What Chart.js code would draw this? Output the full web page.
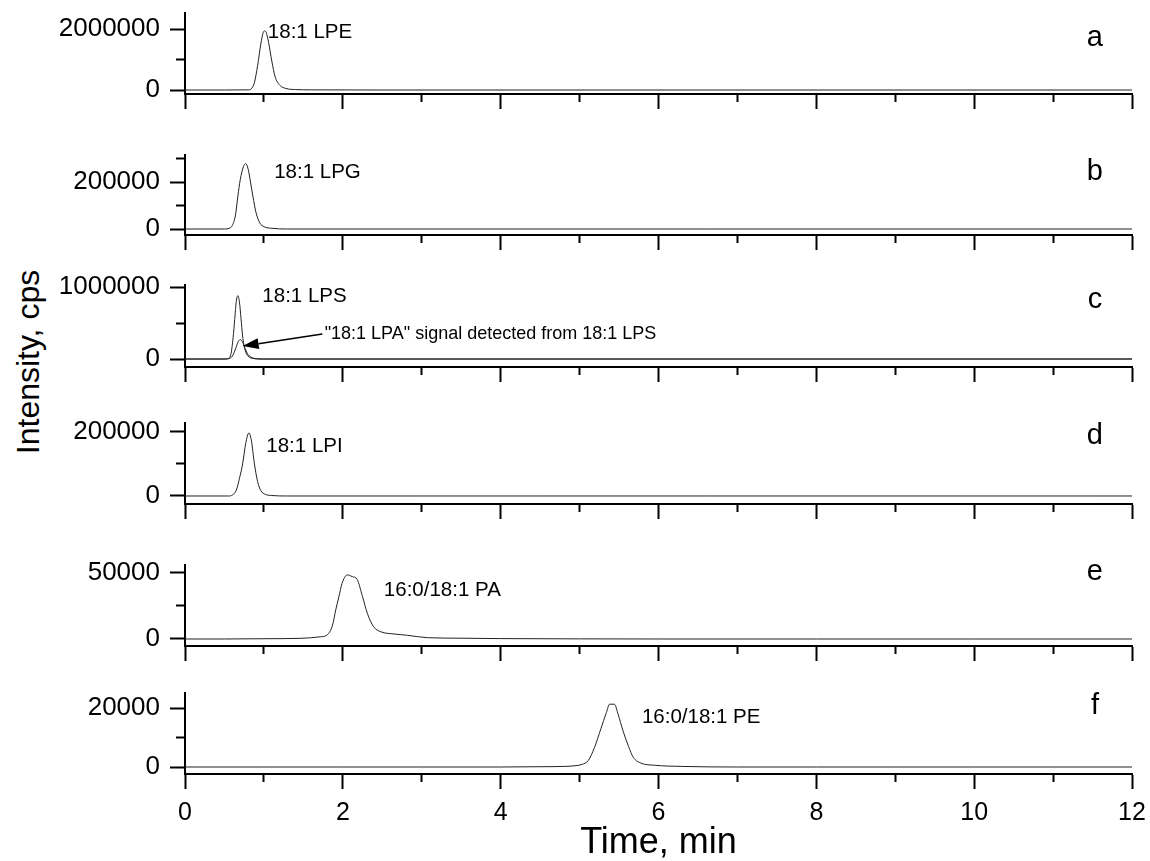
<!DOCTYPE html>
<html>
<head>
<meta charset="utf-8">
<script src="https://cdn.jsdelivr.net/npm/chart.js@4.4.1/dist/chart.umd.min.js"></script>
<style>
  html, body { margin:0; padding:0; background:#fff; }
  #wrap { position:relative; width:1150px; height:861px; overflow:hidden; font-family:"Liberation Sans", Arial, sans-serif; }
  canvas.panel { position:absolute; left:0; }
  #ytitle { position:absolute; left:28px; top:362px; transform:translate(-50%,-50%) rotate(-90deg); font-size:32px; white-space:nowrap; color:#000; }
</style>
</head>
<body>
<div id="wrap">
  <div id="ytitle">Intensity, cps</div>
</div>
<script>
// ---------------- DATA ----------------
const timeTicks = [0,1,2,3,4,5,6,7,8,9,10,11,12];
const timeMajor = [0,2,4,6,8,10,12];

const panelLetters = ['a','b','c','d','e','f'];
const compoundLabels = ['18:1 LPE','18:1 LPG','18:1 LPS','18:1 LPI','16:0/18:1 PA','16:0/18:1 PE'];
const arrowText = '"18:1 LPA" signal detected from 18:1 LPS';

// panel a: 18:1 LPE
const lpeTime = [0, 0.5, 0.8, 0.84, 0.88, 0.92, 0.96, 0.99, 1.01, 1.03, 1.06, 1.1, 1.14, 1.2, 1.28, 1.4, 1.6, 2.5, 12];
const lpeIntensity = [0, 0, 5000, 40000, 250000, 800000, 1500000, 1880000, 1940000, 1880000, 1550000, 950000, 450000, 160000, 50000, 15000, 5000, 0, 0];
const lpeTicks = [0, 1000000, 2000000];
const lpeMajor = [0, 2000000];

// panel b: 18:1 LPG
const lpgTime = [0, 0.5, 0.56, 0.6, 0.64, 0.67, 0.7, 0.74, 0.77, 0.8, 0.83, 0.86, 0.9, 0.95, 1.0, 1.1, 1.3, 12];
const lpgIntensity = [0, 0, 3000, 15000, 60000, 140000, 210000, 265000, 278000, 255000, 200000, 140000, 70000, 25000, 10000, 3000, 0, 0];
const lpgTicks = [0, 100000, 200000, 300000];
const lpgMajor = [0, 200000];

// panel c: 18:1 LPS and "18:1 LPA" from LPS
const lpsTime = [0, 0.5, 0.54, 0.58, 0.61, 0.63, 0.65, 0.67, 0.69, 0.71, 0.73, 0.76, 0.8, 0.86, 0.95, 12];
const lpsIntensity = [0, 0, 5000, 60000, 300000, 550000, 800000, 880000, 790000, 560000, 320000, 130000, 40000, 8000, 0, 0];
const lpaTime = [0, 0.52, 0.56, 0.6, 0.64, 0.67, 0.7, 0.73, 0.76, 0.8, 0.85, 0.9, 1.0, 12];
const lpaIntensity = [0, 0, 5000, 40000, 140000, 230000, 270000, 235000, 150000, 60000, 18000, 5000, 0, 0];
const lpsTicks = [0, 500000, 1000000];
const lpsMajor = [0, 1000000];

// panel d: 18:1 LPI
const lpiTime = [0, 0.55, 0.6, 0.65, 0.69, 0.73, 0.77, 0.81, 0.84, 0.88, 0.92, 0.96, 1.02, 1.1, 1.3, 12];
const lpiIntensity = [0, 0, 3000, 18000, 55000, 100000, 165000, 197000, 175000, 100000, 45000, 17000, 5000, 1500, 0, 0];
const lpiTicks = [0, 100000, 200000];
const lpiMajor = [0, 200000];

// panel e: 16:0/18:1 PA
const paTime = [0, 0.5, 1.0, 1.46, 1.72, 1.8, 1.87, 1.91, 1.95, 1.99, 2.056, 2.12, 2.18, 2.25, 2.31, 2.39, 2.48, 2.65, 2.82, 3.07, 3.5, 4.0, 5, 6, 8, 10, 12];
const paIntensity = [0, 0, 200, 500, 1700, 3000, 10600, 22000, 32000, 42000, 48500, 47200, 45200, 32000, 19500, 9300, 5500, 3800, 2800, 1000, 600, 300, 100, 0, 0, 0, 0];
const paTicks = [0, 25000, 50000];
const paMajor = [0, 50000];

// panel f: 16:0/18:1 PE
const peTime = [0, 1, 2, 3, 4, 4.5, 4.8, 4.93, 5.03, 5.11, 5.19, 5.27, 5.34, 5.38, 5.44, 5.49, 5.55, 5.62, 5.68, 5.78, 5.95, 6.3, 7, 8, 10, 12];
const peIntensity = [0, 0, 0, 0, 0, 100, 200, 400, 900, 2200, 6700, 13000, 18500, 21300, 21300, 17700, 12300, 7000, 3300, 1300, 600, 200, 0, 0, 0, 0];
const peTicks = [0, 10000, 20000];
const peMajor = [0, 20000];

// ---------------- LAYOUT ----------------
const FONT = '"Liberation Sans", Arial, sans-serif';
Chart.defaults.font.family = FONT;
Chart.defaults.color = '#000';

const pad = 20;
const panels = [
  { top:13,  bottom:94,  yMin:-131000, yMax:2525000, series:[[lpeTime, lpeIntensity]], ticks:lpeTicks, major:lpeMajor,
    label:{x:1.05, y:1900000}, letter:{x:11.53, y:1700000} },
  { top:155, bottom:235, yMin:-25500, yMax:315000, series:[[lpgTime, lpgIntensity]], ticks:lpgTicks, major:lpgMajor,
    label:{x:1.13, y:242000}, letter:{x:11.53, y:242000} },
  { top:285, bottom:367, yMin:-111000, yMax:1028000, series:[[lpsTime, lpsIntensity],[lpaTime, lpaIntensity]], ticks:lpsTicks, major:lpsMajor,
    label:{x:0.98, y:875000}, letter:{x:11.53, y:820000},
    arrow:{textX:1.77, textY:347000, fromX:1.74, fromY:347000, toX:0.73, toY:180000} },
  { top:423, bottom:504, yMin:-25000, yMax:228000, series:[[lpiTime, lpiIntensity]], ticks:lpiTicks, major:lpiMajor,
    label:{x:1.03, y:156000}, letter:{x:11.53, y:187000} },
  { top:565, bottom:646, yMin:-5300, yMax:56000, series:[[paTime, paIntensity]], ticks:paTicks, major:paMajor,
    label:{x:2.52, y:37000}, letter:{x:11.53, y:50700} },
  { top:693, bottom:774, yMin:-2370, yMax:25100, series:[[peTime, peIntensity]], ticks:peTicks, major:peMajor,
    label:{x:5.79, y:16900}, letter:{x:11.53, y:20700} }
];

const textPlugin = {
  id: 'panelText',
  afterDatasetsDraw(chart, args, opts) {
    const {ctx} = chart;
    const x = chart.scales.x, y = chart.scales.y;
    ctx.save();
    ctx.fillStyle = '#000';
    ctx.textBaseline = 'middle';
    ctx.textAlign = 'left';
    ctx.font = '20.5px ' + FONT;
    ctx.fillText(opts.label, x.getPixelForValue(opts.labelPos.x), y.getPixelForValue(opts.labelPos.y));
    ctx.textAlign = 'center';
    ctx.font = '29px ' + FONT;
    ctx.fillText(opts.letter, x.getPixelForValue(opts.letterPos.x), y.getPixelForValue(opts.letterPos.y));
    if (opts.arrow) {
      const a = opts.arrow;
      ctx.textAlign = 'left';
      ctx.font = '18px ' + FONT;
      ctx.fillText(arrowText, x.getPixelForValue(a.textX), y.getPixelForValue(a.textY));
      const x1 = x.getPixelForValue(a.fromX), y1 = y.getPixelForValue(a.fromY);
      const x2 = x.getPixelForValue(a.toX), y2 = y.getPixelForValue(a.toY);
      const ang = Math.atan2(y2 - y1, x2 - x1);
      const hl = 16, hw = 5.5;
      const bx = x2 - hl * Math.cos(ang), by = y2 - hl * Math.sin(ang);
      ctx.strokeStyle = '#000';
      ctx.lineWidth = 1.5;
      ctx.beginPath(); ctx.moveTo(x1, y1); ctx.lineTo(bx, by); ctx.stroke();
      ctx.beginPath();
      ctx.moveTo(x2, y2);
      ctx.lineTo(bx + hw * Math.sin(ang), by - hw * Math.cos(ang));
      ctx.lineTo(bx - hw * Math.sin(ang), by + hw * Math.cos(ang));
      ctx.closePath(); ctx.fill();
    }
    ctx.restore();
  }
};

const wrap = document.getElementById('wrap');
panels.forEach((p, i) => {
  const isBottom = i === panels.length - 1;
  const xH = isBottom ? 861 - p.bottom : 17;
  const cv = document.createElement('canvas');
  cv.className = 'panel';
  cv.width = 1150;
  cv.height = (p.bottom - p.top) + pad + xH;
  cv.style.top = (p.top - pad) + 'px';
  wrap.appendChild(cv);

  new Chart(cv, {
    type: 'line',
    data: {
      datasets: p.series.map(([tt, vv]) => ({
        data: tt.map((t, k) => ({x: t, y: vv[k]})),
        borderColor: '#222',
        borderWidth: 1,
        pointRadius: 0,
        fill: false,
        cubicInterpolationMode: 'monotone'
      }))
    },
    options: {
      responsive: false,
      animation: false,
      devicePixelRatio: 1,
      layout: { padding: { top: pad, right: 18, left: 0, bottom: 0 } },
      plugins: {
        legend: { display: false },
        tooltip: { enabled: false },
        panelText: { label: compoundLabels[i], labelPos: p.label, letter: panelLetters[i], letterPos: p.letter, arrow: p.arrow }
      },
      scales: {
        x: {
          type: 'linear', min: 0, max: 12, position: 'bottom',
          afterBuildTicks: s => { s.ticks = timeTicks.map(v => ({value: v})); },
          afterFit: s => { s.height = xH; s.paddingLeft = 0; s.paddingRight = 0; s.paddingTop = 0; s.paddingBottom = 0; },
          ticks: {
            display: isBottom, autoSkip: false, maxRotation: 0, padding: 9,
            font: { size: 25 }, color: '#000',
            callback: v => timeMajor.includes(v) ? String(v) : ''
          },
          grid: {
            drawOnChartArea: false, drawTicks: true, tickLength: 15, tickWidth: 2, tickColor: '#000',
            tickBorderDash: c => (c.tick && !timeMajor.includes(c.tick.value)) ? [7, 100] : []
          },
          border: { display: true, color: '#000', width: 2 },
          title: { display: isBottom, text: 'Time, min', font: { size: 36, lineHeight: 1 }, color: '#000', padding: { top: 0, bottom: 0 } }
        },
        y: {
          type: 'linear', min: p.yMin, max: p.yMax, position: 'left',
          afterBuildTicks: s => { s.ticks = p.ticks.map(v => ({value: v})); },
          afterFit: s => { s.width = 185; s.paddingTop = 0; s.paddingBottom = 0; s.paddingLeft = 0; s.paddingRight = 0; },
          ticks: {
            autoSkip: false, padding: 10, font: { size: 26 }, color: '#000',
            callback: v => p.major.includes(v) ? String(v) : ''
          },
          grid: {
            drawOnChartArea: false, drawTicks: true, tickLength: 15, tickWidth: 2, tickColor: '#000',
            tickBorderDash: c => (c.tick && !p.major.includes(c.tick.value)) ? [0, 6, 20, 100] : []
          },
          border: { display: true, color: '#000', width: 2 }
        }
      }
    },
    plugins: [textPlugin]
  });
});
</script>
</body>
</html>
